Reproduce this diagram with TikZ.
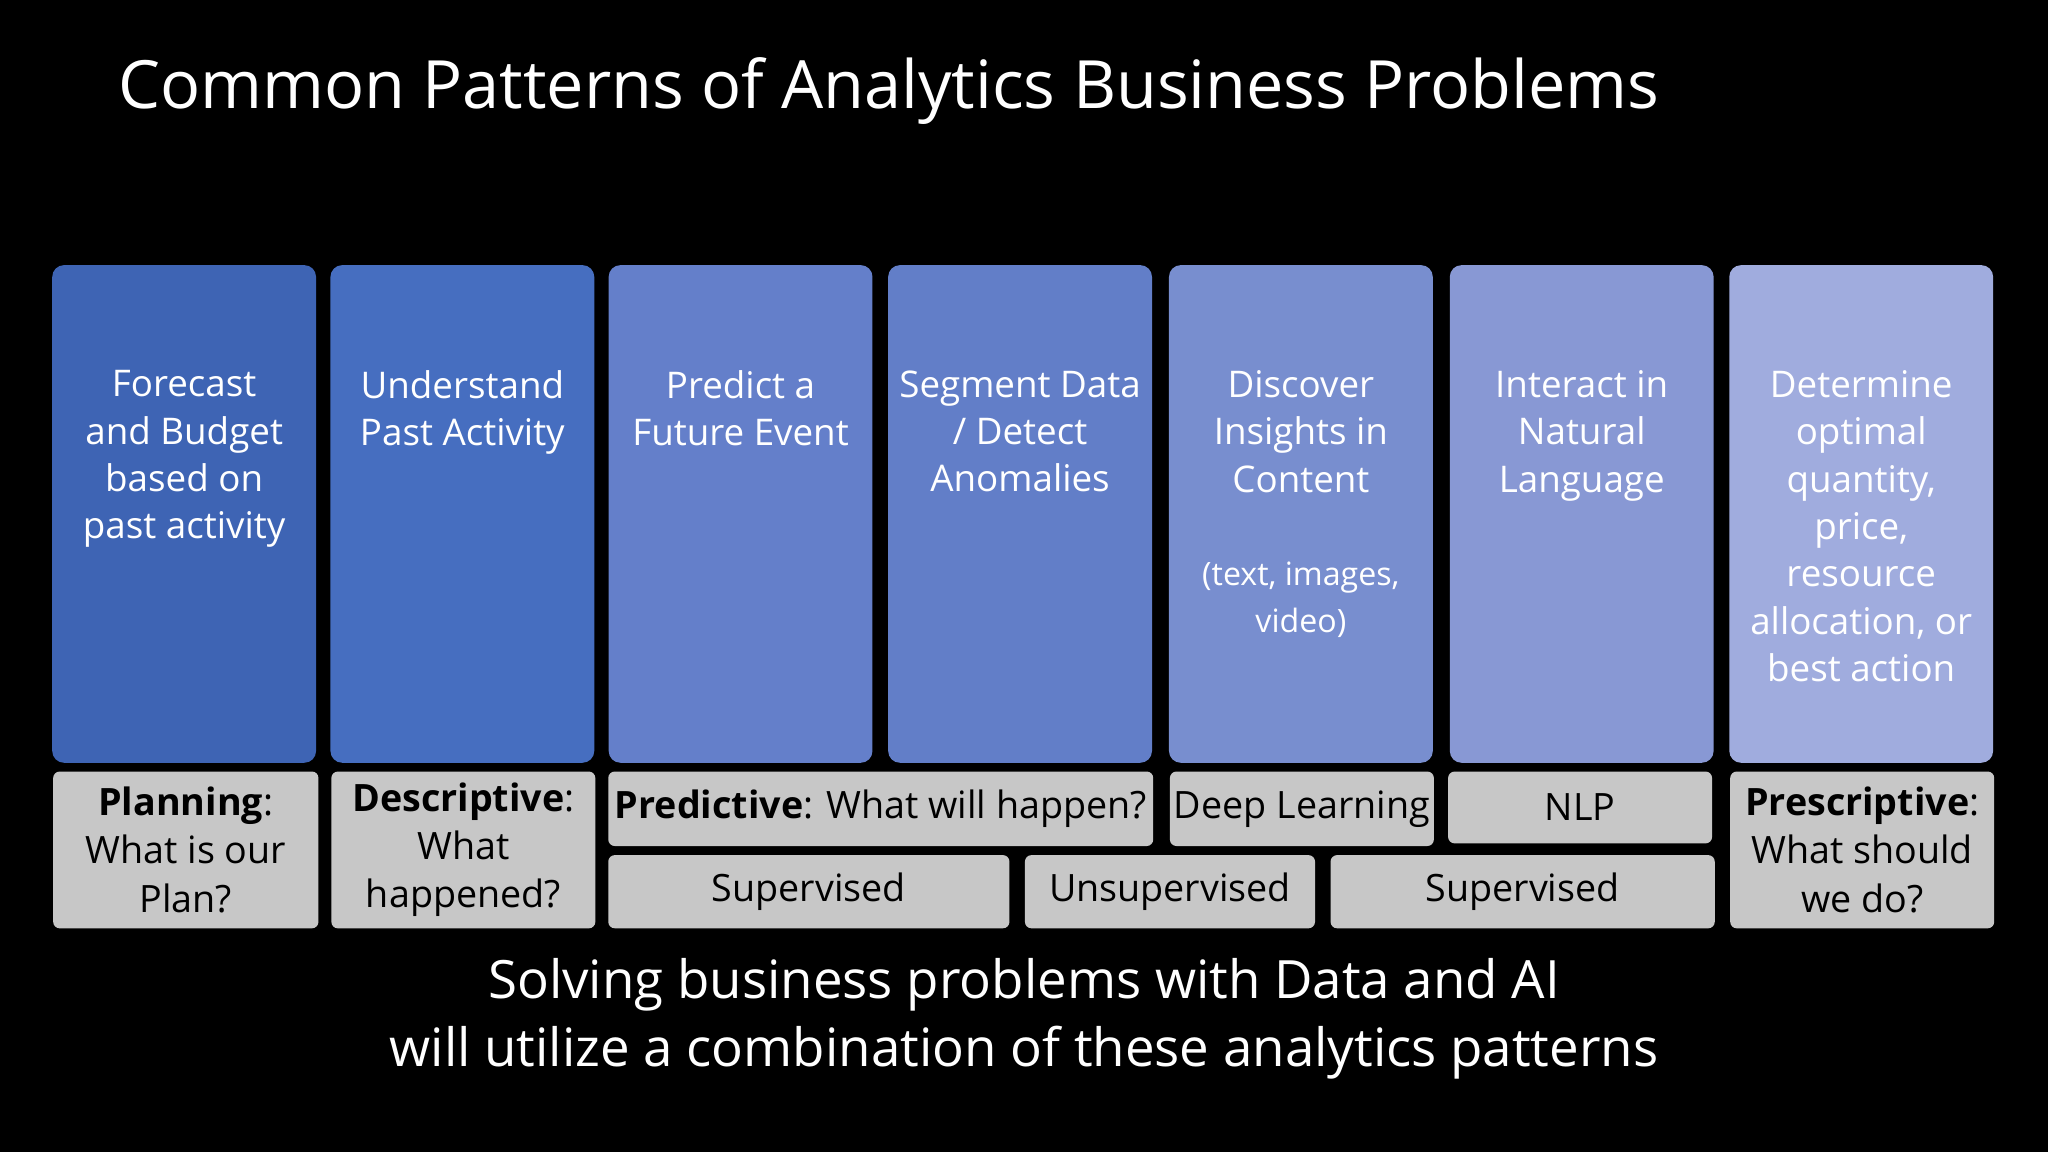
\documentclass[tikz,border=0pt]{standalone}
\usepackage{fontspec}
\setmainfont{Open Sans}
\begin{document}
\begin{tikzpicture}[x=0.01cm,y=-0.01cm,
  col/.style={rounded corners=0.09cm,text=white,align=center,anchor=north west,inner sep=0pt,font=\fontsize{8}{10.3}\selectfont},
  gray/.style={fill=black!22,rounded corners=0.05cm,align=center,inner sep=0pt,font=\fontsize{8.2}{10.5}\selectfont}]
\fill[black] (0,0) rectangle (1568,882);
\useasboundingbox (0,0) rectangle (1568,882);
\node[anchor=west,text=white,font=\fontsize{14.5}{16}\selectfont] (title) at (78,70) {Common Patterns of Analytics Business Problems};
\definecolor{c1}{RGB}{62,100,180}\definecolor{c2}{RGB}{70,110,192}
\definecolor{c3}{RGB}{100,127,202}\definecolor{c4}{RGB}{98,126,200}
\definecolor{c5}{RGB}{120,142,207}\definecolor{c6}{RGB}{136,152,212}
\definecolor{c7}{RGB}{160,172,222}
\foreach \i/\x/\c in {1/40/c1,2/253/c2,3/466/c3,4/680/c4,5/895/c5,6/1110/c6,7/1324/c7}
  \fill[\c,rounded corners=0.09cm] (\x,203) rectangle ++(202,381);
\foreach \n/\x/\t in {a/141/{Forecast\\and Budget\\based on\\past activity},
  b/354/{Understand\\Past Activity},
  c/567/{Predict a\\Future Event},
  d/781/{Segment Data\\/ Detect\\Anomalies},
  e/996/{Discover\\Insights in\\Content\\[10pt]{\fontsize{7}{8.6}\selectfont(text, images,}\\{\fontsize{7}{8.6}\selectfont video)}},
  f/1211/{Interact in\\Natural\\Language},
  g/1425/{Determine\\optimal\\quantity,\\price,\\resource\\allocation, or\\best action}}
  \node[text=white,align=center,anchor=north,inner sep=0pt,font=\fontsize{8}{10.3}\selectfont] (t\n) at (\x,283) {\t};
\node[gray,minimum width=2.03cm,minimum height=1.2cm,anchor=north west] (p1) at (40,590) {\textbf{Planning}:\\What is our\\Plan?};
\node[gray,minimum width=2.02cm,minimum height=1.2cm,anchor=north west] (p2) at (253,590) {\textbf{Descriptive}:\\What\\happened?};
\node[gray,minimum width=4.17cm,minimum height=0.57cm,anchor=north west] (p3) at (465,590) {\textbf{Predictive}: What will happen?};
\node[gray,minimum width=2.02cm,minimum height=0.57cm,anchor=north west] (p4) at (895,590) {Deep Learning};
\node[gray,minimum width=2.02cm,minimum height=0.55cm,anchor=north west] (p5) at (1108,590) {NLP};
\node[gray,minimum width=2.02cm,minimum height=1.2cm,anchor=north west] (p6) at (1324,590) {\textbf{Prescriptive}:\\What should\\we do?};
\node[gray,minimum width=3.07cm,minimum height=0.56cm,anchor=north west] (s1) at (465,654) {Supervised};
\node[gray,minimum width=2.22cm,minimum height=0.56cm,anchor=north west] (s2) at (784,654) {Unsupervised};
\node[gray,minimum width=2.94cm,minimum height=0.56cm,anchor=north west] (s3) at (1018,654) {Supervised};
\node[text=white,align=center,font=\fontsize{11.5}{14.8}\selectfont] (foot) at (784,780) {Solving business problems with Data and AI\\will utilize a combination of these analytics patterns};
\end{tikzpicture}
\end{document}
